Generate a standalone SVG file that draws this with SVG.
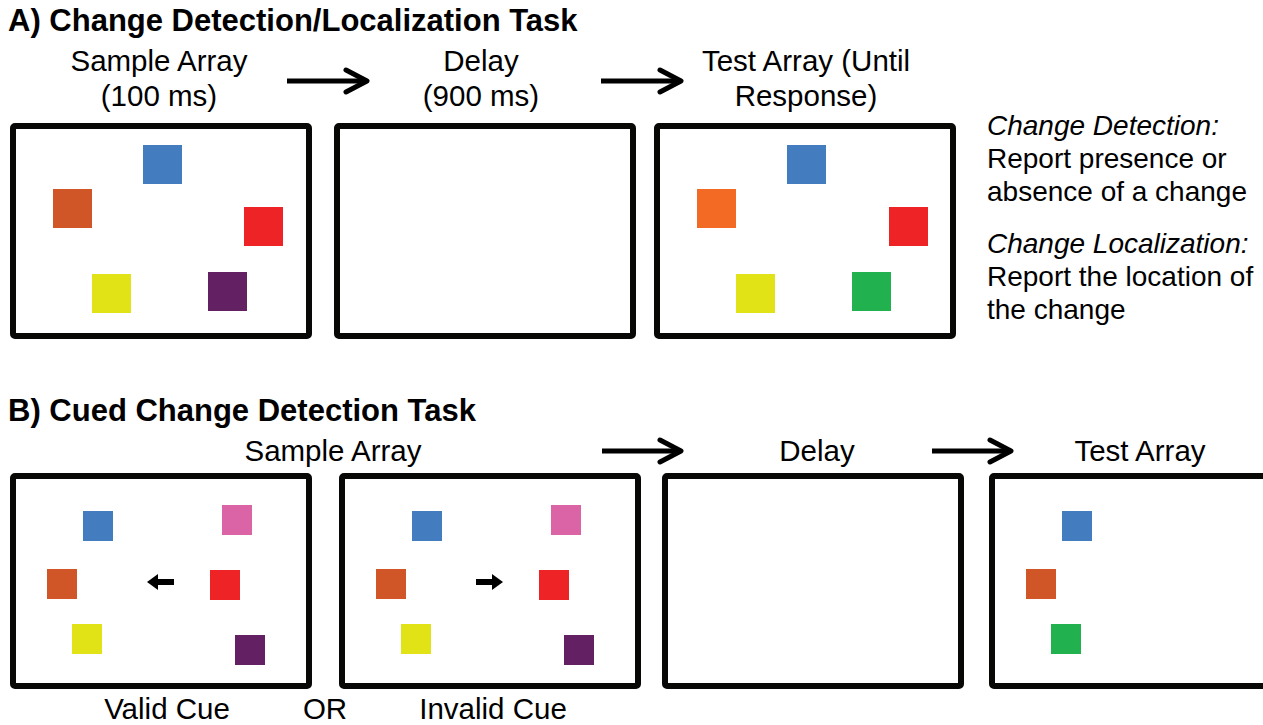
<svg xmlns="http://www.w3.org/2000/svg" width="1263" height="725" viewBox="0 0 1263 725">
<defs>
<style>
text{font-family:"Liberation Sans",Arial,Helvetica,sans-serif;fill:#000}
.title{font-weight:bold;font-size:31px}
.lbl{font-size:29.5px;text-anchor:middle}
.note{font-size:28px}
.it{font-style:italic}
.frame{fill:#fff;stroke:#080806;stroke-width:6;stroke-linejoin:round}
.conn{fill:none;stroke:#000;stroke-width:5}
.blue{fill:#437DC0}.orange{fill:#D05628}.red{fill:#EE2325}.yellow{fill:#E2E317}
.purple{fill:#632063}.green{fill:#21B24F}.pink{fill:#DA64A6}.orange2{fill:#F36A25}
.cue{fill:#000}
</style>
<marker id="chev" markerUnits="userSpaceOnUse" viewBox="-5 -6 32 32" markerWidth="32" markerHeight="32" refX="21" refY="10" orient="auto" overflow="visible">
<path d="M0,-1 L21,10 L0,21" fill="none" stroke="#000" stroke-width="5" stroke-linecap="round" stroke-linejoin="round"/>
</marker>
</defs>
<rect width="1263" height="725" fill="#fff"/>

<text class="title" x="8" y="31">A) Change Detection/Localization Task</text>
<text class="title" x="8" y="421">B) Cued Change Detection Task</text>

<g id="a-sample">
<text class="lbl" x="159" y="71">Sample Array</text>
<text class="lbl" x="159" y="106">(100 ms)</text>
<rect class="frame" x="13" y="126" width="296" height="210" rx="2"/>
<rect class="blue" x="143" y="145" width="39" height="39"/>
<rect class="orange" x="53" y="189" width="39" height="39"/>
<rect class="red" x="244" y="207" width="39" height="39"/>
<rect class="yellow" x="92" y="274" width="39" height="39"/>
<rect class="purple" x="208" y="272" width="39" height="39"/>
</g>

<g id="a-delay">
<text class="lbl" x="481" y="71">Delay</text>
<text class="lbl" x="481" y="106">(900 ms)</text>
<rect class="frame" x="337" y="126" width="296" height="210" rx="2"/>
</g>

<g id="a-test">
<text class="lbl" x="806" y="71">Test Array (Until</text>
<text class="lbl" x="806" y="106">Response)</text>
<rect class="frame" x="657" y="126" width="296" height="210" rx="2"/>
<rect class="blue" x="787" y="145" width="39" height="39"/>
<rect class="orange2" x="697" y="189" width="39" height="39"/>
<rect class="red" x="889" y="207" width="39" height="39"/>
<rect class="yellow" x="736" y="274" width="39" height="39"/>
<rect class="green" x="852" y="272" width="39" height="39"/>
</g>

<g id="a-notes">
<text class="note it" x="987" y="135">Change Detection:</text>
<text class="note" x="987" y="168">Report presence or</text>
<text class="note" x="987" y="201">absence of a change</text>
<text class="note it" x="987" y="253">Change Localization:</text>
<text class="note" x="987" y="286">Report the location of</text>
<text class="note" x="987" y="319">the change</text>
</g>

<g id="b-sample-label">
<text class="lbl" x="333" y="461">Sample Array</text>
</g>

<g id="b-valid">
<rect class="frame" x="13" y="476" width="296" height="210" rx="2"/>
<rect class="blue" x="83" y="511" width="30" height="30"/>
<rect class="pink" x="222" y="505" width="30" height="30"/>
<rect class="orange" x="47" y="569" width="30" height="30"/>
<rect class="red" x="210" y="570" width="30" height="30"/>
<rect class="yellow" x="72" y="624" width="30" height="30"/>
<rect class="purple" x="235" y="635" width="30" height="30"/>
<polygon class="cue" points="147,582 158,574 158,579 174,579 174,585 158,585 158,590"/>
<text class="lbl" x="167" y="719">Valid Cue</text>
</g>

<g id="b-or">
<text class="lbl" x="325" y="719">OR</text>
</g>

<g id="b-invalid">
<rect class="frame" x="342" y="476" width="296" height="210" rx="2"/>
<rect class="blue" x="412" y="511" width="30" height="30"/>
<rect class="pink" x="551" y="505" width="30" height="30"/>
<rect class="orange" x="376" y="569" width="30" height="30"/>
<rect class="red" x="539" y="570" width="30" height="30"/>
<rect class="yellow" x="401" y="624" width="30" height="30"/>
<rect class="purple" x="564" y="635" width="30" height="30"/>
<polygon class="cue" points="503,582 492,574 492,579 476,579 476,585 492,585 492,590"/>
<text class="lbl" x="493" y="719">Invalid Cue</text>
</g>

<g id="b-delay">
<text class="lbl" x="817" y="461">Delay</text>
<rect class="frame" x="665" y="476" width="296" height="210" rx="2"/>
</g>

<g id="b-test">
<text class="lbl" x="1140" y="461">Test Array</text>
<rect class="frame" x="992" y="476" width="296" height="210" rx="2"/>
<rect class="blue" x="1062" y="511" width="30" height="30"/>
<rect class="orange" x="1026" y="569" width="30" height="30"/>
<rect class="green" x="1051" y="624" width="30" height="30"/>
</g>

<g id="connectors">
<path class="conn" d="M287,81 H367" marker-end="url(#chev)"/>
<path class="conn" d="M601,81 H681" marker-end="url(#chev)"/>
<path class="conn" d="M602,451 H681" marker-end="url(#chev)"/>
<path class="conn" d="M932,451 H1011" marker-end="url(#chev)"/>
</g>
</svg>
